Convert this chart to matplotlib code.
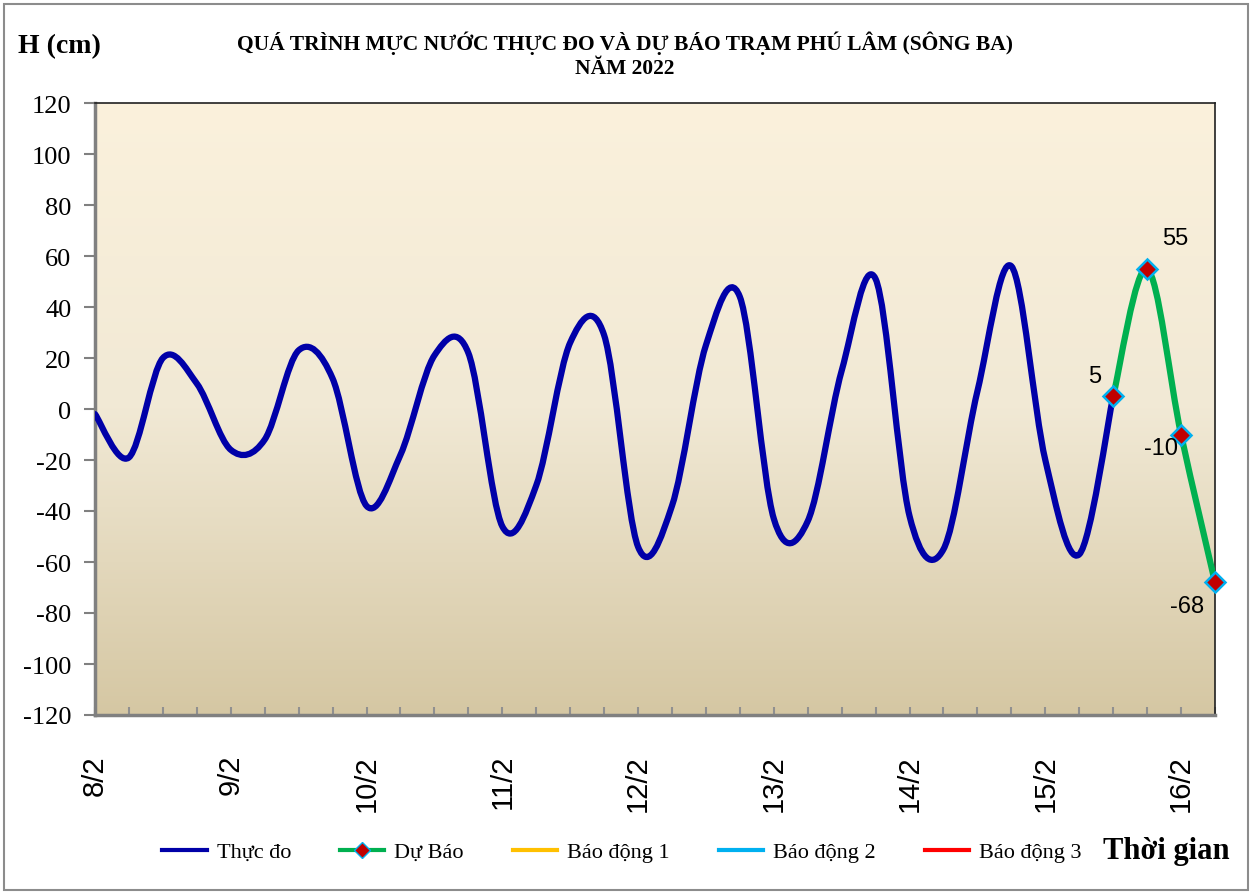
import numpy as np
import matplotlib

matplotlib.use("Agg")
import matplotlib.pyplot as plt
from matplotlib.colors import LinearSegmentedColormap
from matplotlib.lines import Line2D
from matplotlib.patches import PathPatch, Rectangle
from matplotlib.path import Path

# observed water level every 6 hours from 8/2 00h
observed = [-2, -19, 20, 10, -16, -12, 23, 12, -38, -18, 21, 22, -46, -30, 26, 29,
            -54, -38, 25, 44, -43, -44, 15, 51, -42, -55, 7, 56, -20, -57, 5]
forecast = [5, 55, -10, -68]
day_labels = ["8/2", "9/2", "10/2", "11/2", "12/2", "13/2", "14/2", "15/2", "16/2"]
steps_per_day = 4
legend_labels = ["Thực đo", "Dự Báo", "Báo động 1", "Báo động 2", "Báo động 3"]

TITLE = "QUÁ TRÌNH MỰC NƯỚC THỰC ĐO VÀ DỰ BÁO TRẠM PHÚ LÂM (SÔNG BA)\nNĂM 2022"
SERIF = ["Liberation Serif", "DejaVu Serif"]
SANS = ["Liberation Sans", "DejaVu Sans"]

BLUE = "#0000A8"
GREEN = "#00B050"


def smooth_path(x, y):
    """Excel-like smoothed line: cubic Bezier through every point."""
    x = np.asarray(x, float)
    y = np.asarray(y, float)
    pts = np.column_stack([x, y])
    ext = np.vstack([pts[0], pts, pts[-1]])
    verts = [pts[0]]
    codes = [Path.MOVETO]
    for i in range(len(pts) - 1):
        p0, p1, p2, p3 = ext[i], ext[i + 1], ext[i + 2], ext[i + 3]
        c1 = p1 + (p2 - p0) / 6.0
        c2 = p2 - (p3 - p1) / 6.0
        verts += [c1, c2, p2]
        codes += [Path.CURVE4] * 3
    return Path(verts, codes)


fig = plt.figure(figsize=(12.53, 8.95), dpi=100)
ax = fig.add_axes([95 / 1253, 1 - 716 / 895, 1120 / 1253, 612 / 895])

# outer chart frame
fig.patches.append(Rectangle((4 / 1253, 4 / 895), 1244 / 1253, 886 / 895,
                             transform=fig.transFigure, fill=False,
                             edgecolor="#8C8C8C", linewidth=1.5))

x_obs = np.arange(len(observed))
x_fc = np.arange(len(observed) - 1, len(observed) - 1 + len(forecast))
n_points = len(observed) + len(forecast) - 1

# gradient background
cmap = LinearSegmentedColormap.from_list("bg", ["#FBF1DC", "#F1E9D5", "#D5C7A3"])
ax.imshow(np.linspace(0, 1, 256).reshape(-1, 1), cmap=cmap, aspect="auto",
          extent=[0, n_points - 1, -120, 120], origin="upper", zorder=0)

ax.add_patch(PathPatch(smooth_path(x_obs, observed), facecolor="none",
                       edgecolor=BLUE, linewidth=4.5, capstyle="round",
                       joinstyle="round", zorder=3))
ax.add_patch(PathPatch(smooth_path(x_fc, forecast), facecolor="none",
                       edgecolor=GREEN, linewidth=4.5, capstyle="round",
                       joinstyle="round", zorder=4))
ax.plot(x_fc, forecast, linestyle="none", marker="D", markersize=10,
        markerfacecolor="#C00000", markeredgecolor="#00B0F0",
        markeredgewidth=1.8, zorder=5, clip_on=False)

label_offsets = [(-19, 20), (28, 31), (-20, -13), (-28, -24)]
for xi, yi, (dx, dy) in zip(x_fc, forecast, label_offsets):
    ax.annotate(str(yi), (xi, yi), xytext=(dx * 0.72, dy * 0.72),
                textcoords="offset points", ha="center", va="center",
                fontsize=17, family=SANS, color="black", zorder=6)

ax.set_xlim(0, n_points - 1)
ax.set_ylim(-120, 120)
ax.set_yticks(np.arange(-120, 121, 20))
ax.set_yticklabels([str(v) for v in range(-120, 121, 20)], family=SERIF, fontsize=19)
ax.tick_params(axis="y", direction="out", length=8, width=1.5, color="#808080", pad=9)

tick_labels = [""] * n_points
for i, lab in enumerate(day_labels):
    tick_labels[i * steps_per_day] = lab
ax.set_xticks(np.arange(n_points))
ax.set_xticklabels(tick_labels, rotation=90, va="top", ha="center",
                   family=SANS, fontsize=21)
ax.tick_params(axis="x", direction="in", length=6, width=1.5, color="#909090", pad=28)

for side in ("left", "bottom"):
    ax.spines[side].set_color("#808080")
    ax.spines[side].set_linewidth(2.5)
for side in ("top", "right"):
    ax.spines[side].set_color("#202020")
    ax.spines[side].set_linewidth(1.2)

fig.text(625 / 1253, 1 - 55 / 895, TITLE, ha="center", va="center",
         family=SERIF, fontsize=15.5, fontweight="bold", linespacing=1.25)
fig.text(18 / 1253, 1 - 47 / 895, "H (cm)", ha="left", va="center",
         family=SERIF, fontsize=20, fontweight="bold")
fig.text(1103 / 1253, 1 - 852 / 895, "Thời gian", ha="left", va="center",
         family=SERIF, fontsize=22, fontweight="bold")

handles = [
    Line2D([], [], color=BLUE, linewidth=3),
    Line2D([], [], color=GREEN, linewidth=3, marker="D", markersize=8,
           markerfacecolor="#C00000", markeredgecolor="#00B0F0"),
    Line2D([], [], color="#FFC000", linewidth=3),
    Line2D([], [], color="#00B0F0", linewidth=3),
    Line2D([], [], color="#FF0000", linewidth=3),
]
fig.legend(handles, legend_labels, loc="center", ncol=5,
           bbox_to_anchor=(622 / 1253, 1 - 853 / 895), frameon=False,
           prop={"family": SERIF, "size": 16}, handlelength=2.0,
           handletextpad=0.45, columnspacing=2.2)

fig.savefig("out.png", dpi=100)
